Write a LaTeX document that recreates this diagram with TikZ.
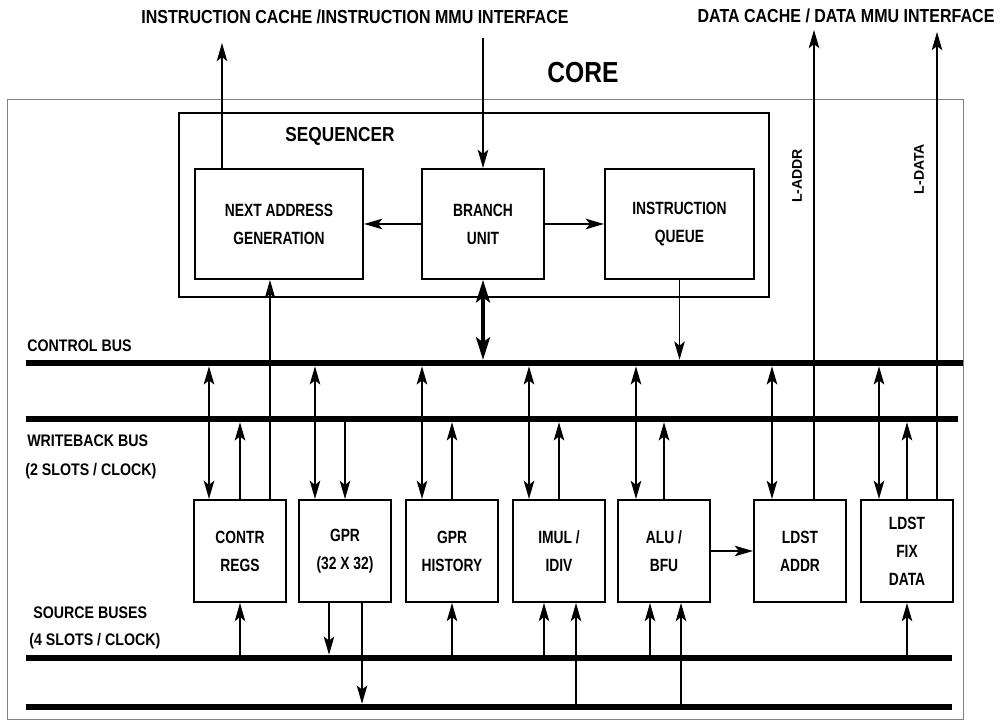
\documentclass[tikz,border=0pt]{standalone}
\usepackage{fontspec}
\setmainfont{Liberation Sans}[FakeStretch=0.85]
\newfontfamily\plainfont{Liberation Sans}
\newfontfamily\condfont{Liberation Sans}[FakeStretch=0.78]
\usetikzlibrary{arrows.meta}
\tikzset{
	blk/.style     = {draw, line width=1.4pt, rectangle, align=center, inner sep=0pt,
		font=\condfont\bfseries\fontsize{12.6}{20}\selectfont},
	fu/.style      = {blk, minimum width=2.3cm, minimum height=2.55cm}, % functional unit
	bus/.style     = {rectangle, fill=black, inner sep=0pt, minimum height=0.15cm},
	lbl/.style     = {anchor=base west, inner sep=0pt, font=\bfseries\fontsize{11.9}{14}\selectfont},
	title/.style   = {inner sep=0pt, font=\bfseries\fontsize{13.4}{16}\selectfont},
	sig/.style     = {rotate=90, inner sep=0pt, font=\plainfont\bfseries\fontsize{10}{12}\selectfont},
	wire/.style    = {->, line width=0.75pt},
	duplex/.style  = {<->, line width=1.3pt},
	heavy/.style   = {line width=2.2pt,
		{Stealth[length=16pt,width=10pt,inset=3.5pt]}-{Stealth[length=16pt,width=10pt,inset=3.5pt]}}
}

\begin{document}
\begin{tikzpicture}[x=0.025cm, y=-0.025cm, >={Stealth[length=13pt,width=7.5pt,inset=3pt]}]
	\useasboundingbox (0,0) rectangle (1000,720);
	\draw[gray, line width=0.7pt] (7,99) rectangle (963,719);
	\draw
	node at (583,73)[inner sep=0pt, font=\bfseries\fontsize{20.6}{24}\selectfont] (core) {CORE}
	node at (355,17)[title] (itop) {INSTRUCTION CACHE /INSTRUCTION MMU INTERFACE}
	node at (846,16)[title] (dtop) {DATA CACHE / DATA MMU INTERFACE}
	node at (474,205)[blk, minimum width=14.75cm, minimum height=4.6cm] (seq) {}
	node at (340,136)[inner sep=0pt, font=\bfseries\fontsize{14.4}{16}\selectfont] (seqlbl) {SEQUENCER}
	node at (279,224)[blk, minimum width=4.2cm, minimum height=2.75cm] (nag) {NEXT ADDRESS\\GENERATION}
	node at (483,224)[blk, minimum width=3.05cm, minimum height=2.75cm] (bru) {BRANCH\\UNIT}
	node at (679.5,224)[blk, minimum width=3.725cm, minimum height=2.75cm] (iq) {INSTRUCTION\\QUEUE}
	node at (797,176)[sig] (laddr) {L-ADDR}
	node at (919,169)[sig] (ldata) {L-DATA}
	;
	
	\draw
	node at (494.5,363)[bus, minimum width=23.425cm] (cbus) {}
	node at (492,419)[bus, minimum width=23.3cm] (wbus) {}
	node at (489,658)[bus, minimum width=23.15cm] (sbusa) {}
	node at (489,707)[bus, minimum width=23.15cm] (sbusb) {}
	node at (27,352)[lbl] (cbuslbl) {CONTROL BUS}
	node at (27,447)[lbl] (wbuslbl) {WRITEBACK BUS}
	node at (25,476)[lbl] (wbusslot) {(2 SLOTS / CLOCK)}
	node at (33,618)[lbl] (sbuslbl) {SOURCE BUSES}
	node at (29,646)[lbl] (sbusslot) {(4 SLOTS / CLOCK)}
	;
	
	\draw
	node at (240,551)[fu] (contr) {CONTR\\REGS}
	node at (345,551)[fu] (gpr) {GPR\\(32 X 32)}
	node at (452,551)[fu] (gprh) {GPR\\HISTORY}
	node at (559,551)[fu] (imul) {IMUL /\\IDIV}
	node at (664,551)[fu] (alu) {ALU /\\BFU}
	node at (800,551)[fu] (ldsta) {LDST\\ADDR}
	node at (907,551)[fu] (ldstf) {LDST\\FIX\\DATA}
	;
	
	\coordinate (iout) at (222,43);
	\coordinate (iin) at (483,38);
	\coordinate (aout) at (814,30);
	\coordinate (dout) at (937,32);
	
	\draw[wire] (nag.north -| iout) -- (iout);
	\draw[wire] (iin) -- (bru.north);
	\draw[wire, line width=1.3pt] (bru.west) -- (nag.east);
	\draw[wire, line width=1.3pt] (bru.east) -- (iq.west);
	\draw[heavy] (bru.south) -- (bru.south |- cbus.north);
	\draw[wire] (iq.south) -- (iq.south |- cbus.north);
	\draw[wire] ([xshift=0.75cm]contr.north) -- ([xshift=0.75cm]contr.north |- nag.south);
	\draw[wire] (ldsta.north -| aout) -- (aout);
	\draw[wire] (ldstf.north -| dout) -- (dout);
	
	\foreach \u/\dx in {contr/-0.775, gpr/-0.75, gprh/-0.75, imul/-0.75, alu/-0.7, ldsta/-0.7, ldstf/-0.7}
	\draw[duplex] ([xshift=\dx cm]\u.north) -- ([xshift=\dx cm]\u.north |- cbus.south);
	\foreach \u in {contr, gprh, imul, alu, ldstf}
	\draw[wire] (\u.north) -- (\u.north |- wbus.south);
	\draw[wire] (gpr.north |- wbus.south) -- (gpr.north);
	
	\draw[duplex, -> ] (alu.east) -- (ldsta.west);
	
	\foreach \u in {contr, gprh, ldstf}
	\draw[wire] (\u.south |- sbusa.north) -- (\u.south);
	\foreach \u/\dx in {imul/-0.375, alu/-0.35}
	\draw[wire] ([xshift=\dx cm]\u.south |- sbusa.north) -- ([xshift=\dx cm]\u.south);
	\foreach \u in {imul, alu}
	\draw[wire] ([xshift=0.425cm]\u.south |- sbusb.north) -- ([xshift=0.425cm]\u.south);
	\draw[wire] ([xshift=-0.4cm]gpr.south) -- ([xshift=-0.4cm]gpr.south |- sbusa.north);
	\draw[wire] ([xshift=0.425cm]gpr.south) -- ([xshift=0.425cm]gpr.south |- sbusb.north);
\end{tikzpicture}
\end{document}
